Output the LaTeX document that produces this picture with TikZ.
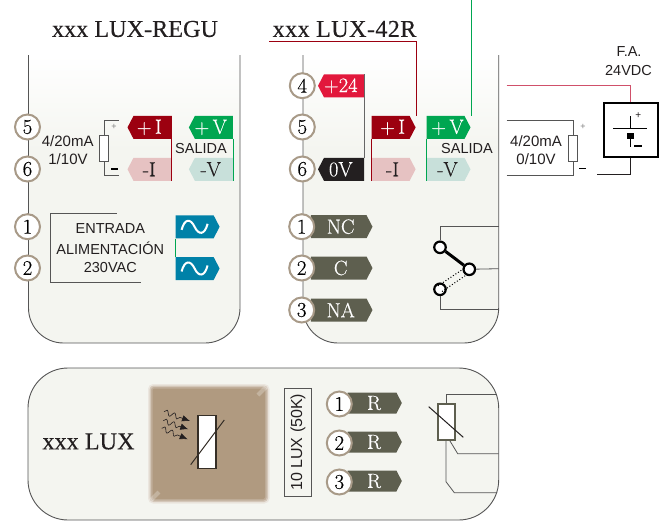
\documentclass[tikz,border=0pt]{standalone}
\usepackage{fontspec}
\newfontfamily\sansf{Liberation Sans}
\newfontfamily\titlef[FakeBold=0.25]{Liberation Serif}
\newfontfamily\tagf[FakeBold=0.3]{Latin Modern Roman}
\usepackage{tikz}
\usetikzlibrary{arrows.meta,shapes.symbols,decorations.pathmorphing}
\definecolor{panelfill}{HTML}{F4F5F0}
\definecolor{ringcol}{HTML}{A89A88}
\definecolor{wirecol}{HTML}{555555}
\definecolor{darkred}{HTML}{9C0010}
\definecolor{paleRed}{HTML}{E6C2C2}
\definecolor{hotred}{HTML}{E2183C}
\definecolor{pinkline}{HTML}{D0506A}
\definecolor{midgreen}{HTML}{00A651}
\definecolor{paleGreen}{HTML}{C8E0DA}
\definecolor{offblack}{HTML}{231F20}
\definecolor{olive}{HTML}{5E5F4F}
\definecolor{acblue}{HTML}{0081A8}
\definecolor{sensorbrown}{HTML}{B09A80}
\tikzset{
	term/.style = {circle,draw=ringcol,line width=2pt,fill=white,minimum size=25pt,inner sep=0pt,font=\tagf\fontsize{21}{21}\selectfont},
	tagbase/.style = {signal,signal pointer angle=125,inner sep=0pt,minimum width=44pt,minimum height=23pt,text=white,font=\tagf\fontsize{20.5}{20.5}\selectfont},
	tagleft/.style = {tagbase,signal to=west,execute at begin node={\kern-6.4pt}},
	tagright/.style = {tagbase,signal to=east,execute at begin node={\kern4pt}},
	bigtag/.style = {tagright,fill=olive,minimum width=61.6pt},
	rtag/.style = {tagright,fill=olive,minimum width=54.2pt,minimum height=21pt},
	label/.style = {font=\sansf\fontsize{14.5}{14.5}\selectfont,text=offblack,inner sep=0pt},
	madlabel/.style = {label,font=\sansf\fontsize{15}{15}\selectfont},
	title/.style = {font=\titlef\fontsize{24.2}{24.2}\selectfont,text=offblack,inner sep=0pt},
	res/.style = {rectangle,draw=wirecol,line width=1pt,fill=white,minimum width=9pt,minimum height=26pt,inner sep=0pt},
	wire/.style = {draw=wirecol,line width=.8pt},
	relaypin/.style = {circle,draw=black,line width=2.2pt,fill=white,minimum size=11.5pt,inner sep=0pt},
	lightray/.style = {decorate,decoration={snake,segment length=8pt,amplitude=2.5pt,post length=8pt},-{Latex[length=8pt,width=6.5pt]},line width=.6pt},
}
\begin{document}
\begin{tikzpicture}[x=1pt, y=-1pt]
	\useasboundingbox (0,0) rectangle (668,527);
	% panels
	\fill[panelfill, rounded corners=35pt] (28.5,55) -- (28.5,343) -- (240,343) -- (240,55) -- cycle;
	\fill[panelfill, rounded corners=35pt] (303,55) -- (303,343) -- (498.7,343) -- (498.7,55) -- cycle;
	\shade[top color=white, bottom color=panelfill] (28.5,55) rectangle (240,150);
	\shade[top color=white, bottom color=panelfill] (303,55) rectangle (498.7,150);
	\draw[wirecol, line width=.9pt, rounded corners=35pt] (28.5,55) -- (28.5,343) -- (240,343) -- (240,55);
	\draw[wirecol, line width=.9pt, rounded corners=35pt] (303,55) -- (303,343) -- (498.7,343) -- (498.7,55);
	\draw[wirecol, line width=.9pt, fill=panelfill, rounded corners=40pt] (28,368) rectangle (498.7,520);
	% titles
	\node[title] (regutitle) at (135,29) {xxx LUX-REGU};
	\node[title] (rtitle) at (344.5,29) {\addfontfeature{LetterSpace=1.5}xxx LUX-42R};
	\node[title] (luxtitle) at (88.5,441.5) {xxx LUX};

	% left module
	\node[tagleft, fill=darkred] (ia) at (152.5,127.4) {+\,I};
	\node[tagleft, fill=paleRed, text=offblack] (ib) at (152.5,169.3) {-I};
	\node[tagleft, fill=midgreen] (va) at (213.9,127.4) {+\,V};
	\node[tagleft, fill=paleGreen, text=offblack] (vb) at (213.9,169.3) {-V};
	\draw[darkred, line width=.8pt] (ia.north east) -- (ib.south east);
	\draw[midgreen, line width=.8pt] (va.south east) -- (vb.south east);
	\node[label] (salidaa) at (201,149) {SALIDA};
	\node[madlabel] (mada) at (67.7,140.7) {4/20mA};
	\node[madlabel] (vda) at (68,159) {1/10V};
	\node[res] (resa) at (104.3,148.3) {};
	\coordinate (resaplus) at (119,120.5);
	\coordinate (resaminus) at (119,175);
	\draw[wire] (resa.north) |- (resaplus);
	\draw[wire] (resa.south) |- (resaminus);
	\node[font=\sansf\fontsize{9}{9}\selectfont, text=gray, inner sep=0pt] (plusa) at (114,127) {+};
	\draw[black, line width=1.4pt] (111,169) -- ++(7,0);
	\foreach \n/\yy in {5/127,6/169,1/226.7,2/268}
		\node[term] (a\n) at (27.5,\yy) {\n};
	% power input
	\coordinate (boxatop) at (116.7,213.3);
	\coordinate (boxabot) at (140.7,282.3);
	\draw[wire] (boxatop) -| (50.3,282.3) -- (boxabot);
	\node[label] (entrada) at (110.3,229) {ENTRADA};
	\node[label] (alim) at (110.3,248) {ALIMENTACIÓN};
	\node[label] (vac) at (110.3,268) {230VAC};
	\node[tagright, fill=acblue] (aca) at (194.6,226.8) {};
	\node[tagright, fill=acblue] (acb) at (194.6,268.5) {};
	\draw[midgreen, line width=.8pt] (aca.south west) -- (acb.north west);
	\foreach \n in {aca,acb}
		\draw[white, line width=2pt, shift={(\n.center)}] (-13,3) .. controls (-10,-8.5) and (-4,-8.5) .. (0,0) .. controls (4,8.5) and (10,8.5) .. (13,-3);

	% right module
	\coordinate (redstart) at (269,41.3);
	\coordinate (greenstart) at (471.3,0);
	\node[tagleft, fill=hotred, minimum width=46pt] (plusv) at (344,85.8) {+24};
	\node[tagleft, fill=offblack, minimum width=46pt] (zerov) at (344,169.3) {0V};
	\draw[black!60, line width=1.3pt] (plusv.north east) -- (zerov.north east);
	\node[tagright, fill=darkred] (ic) at (390.6,127.4) {+\,I};
	\node[tagright, fill=paleRed, text=offblack] (id) at (390.6,169.3) {-I};
	\node[tagright, fill=midgreen] (vc) at (445.5,127.4) {+\,V};
	\node[tagright, fill=paleGreen, text=offblack] (vd) at (445.5,169.3) {-V};
	\draw[darkred, line width=.8pt] (ic.south west) -- (id.south west);
	\draw[midgreen, line width=.8pt] (vc.south west) -- (vd.south west);
	\draw[darkred, line width=.8pt] (redstart) -| (416.7,116);
	\draw[midgreen, line width=.8pt] (greenstart) -- (471.3,116);
	\node[label] (salidab) at (467,149) {SALIDA};
	\foreach \n/\yy in {4/85.7,5/127,6/169}
		\node[term] (b\n) at (302.3,\yy) {\n};

	% relay tags
	\node[bigtag] (nc) at (338.7,226.7) {NC};
	\node[bigtag] (cc) at (338.7,268) {C};
	\node[bigtag] (na) at (338.7,310) {NA};
	\foreach \n/\yy in {1/226.7,2/268,3/310}
		\node[term] (c\n) at (301.7,\yy) {\n};
	% relay
	\coordinate (relaytop) at (498.7,226.7);
	\coordinate (relaymid) at (498.7,268.7);
	\coordinate (relaybot) at (498.7,309.3);
	\node[relaypin] (pina) at (440,247.3) {};
	\node[relaypin] (pinc) at (469.3,269.3) {};
	\node[relaypin] (pinb) at (440,289.3) {};
	\draw[wire] (pina) |- (relaytop);
	\draw[wire] (pinb) |- (relaybot);
	\draw[wire] (pinc) -- (relaymid);
	\draw[black, line width=3pt] (pina) -- (pinc);
	\draw[black, line width=1pt, dotted] (438,285.8) -- (464,268.5);
	\draw[black, line width=1pt, dotted] (442,291.5) -- (467,274.5);

	% load and supply
	\coordinate (loadtop) at (506.7,120);
	\coordinate (loadbot) at (506.7,175);
	\node[res] (resb) at (573,148) {};
	\draw[wire] (loadtop) -| (resb.north);
	\draw[wire] (loadbot) -| (resb.south);
	\node[madlabel] (madb) at (536,140.7) {4/20mA};
	\node[madlabel] (vdb) at (536,159) {0/10V};
	\node[font=\sansf\fontsize{9}{9}\selectfont, text=gray, inner sep=0pt] (plusb) at (583,127) {+};
	\draw[black, line width=1.4pt] (579,168.3) -- ++(7,0);
	\node[rectangle, draw=black, line width=2pt, fill=white, minimum width=54pt, minimum height=54pt, inner sep=0pt] (supply) at (630.8,129.7) {};
	\node[label] (fa) at (629,51.7) {F.A.};
	\node[label] (vdc) at (628.5,71) {24VDC};
	\coordinate (supplyred) at (506.7,85);
	\coordinate (supplyret) at (596.7,174.3);
	\draw[pinkline, line width=.8pt] (supplyred) -| (supply.north);
	\draw[offblack, line width=.8pt] (supply.south) |- (supplyret);
	\draw[black, line width=.7pt] (630.3,116) -- (630.3,129);
	\draw[black, line width=1.5pt] (613.3,128.7) -- (647.3,128.7);
	\fill[black] (626.7,133.3) rectangle (634,139.3);
	\draw[black, line width=.7pt] (630.3,139) -- (630.3,147);
	\draw[black, line width=1.7pt] (634.3,146.3) -- (641.7,146.3);
	\node[font=\sansf\fontsize{10}{10}\selectfont, text=offblack, inner sep=0pt] (plusc) at (638.3,116) {+};

	% sensor
	\fill[sensorbrown!25, rounded corners=5pt] (148,384) rectangle (269.5,503.5);
	\fill[sensorbrown!55, rounded corners=4pt] (149.5,385.5) rectangle (268,502);
	\fill[sensorbrown!80, rounded corners=3pt] (151,387) rectangle (266.5,500.5);
	\fill[sensorbrown, rounded corners=2pt] (152.5,388.5) rectangle (265,499);
	\draw[white, opacity=.25, line width=4pt] (258,395) -- (266,387);
	\draw[white, opacity=.25, line width=4pt] (151,500) -- (159,492);
	\node[rectangle, draw=black!70!sensorbrown, line width=1.6pt, fill=white, minimum width=18pt, minimum height=53pt, inner sep=0pt] (ldr) at (207.2,441.8) {};
	\draw[black!70!sensorbrown, line width=1pt] (190.7,464.7) -- (224.3,420);
	\draw[lightray, offblack] (164,411.7) -- (190,421);
	\draw[lightray, offblack] (163.3,420.7) -- (188.3,429.3);
	\draw[lightray, offblack] (161.7,428.3) -- (187.7,439.3);
	\node[rectangle, draw=wirecol, line width=.7pt, minimum width=108pt, minimum height=27.5pt, inner sep=0pt, rotate=90, font=\sansf\fontsize{16}{16}\selectfont, text=offblack] (luxval) at (298,442.2) {10 LUX (50K)};
	\node[rtag] (ra) at (372,403) {R};
	\node[rtag] (rb) at (372,442) {R};
	\node[rtag] (rc) at (372,481) {R};
	\foreach \n/\yy in {1/404,2/443,3/482}
		\node[term] (d\n) at (339.3,\yy) {\n};
	% sensor wiring
	\coordinate (sensa) at (497,394.7);
	\coordinate (sensb) at (498.7,453.7);
	\coordinate (sensc) at (497,492.7);
	\node[res, draw=olive, line width=1.6pt, minimum width=17pt, minimum height=36pt] (resc) at (446.5,422.2) {};
	\draw[wire] (resc.north) |- (sensa);
	\draw[wire] (450,441) -- (457.7,453.7) -- (sensb);
	\draw[wire] (446,441) -- (446,481.7) -- (454.3,492.7) -- (sensc);
	\draw[offblack, line width=1pt] (428.7,406.7) -- (463.3,437.3);
\end{tikzpicture}
\end{document}
